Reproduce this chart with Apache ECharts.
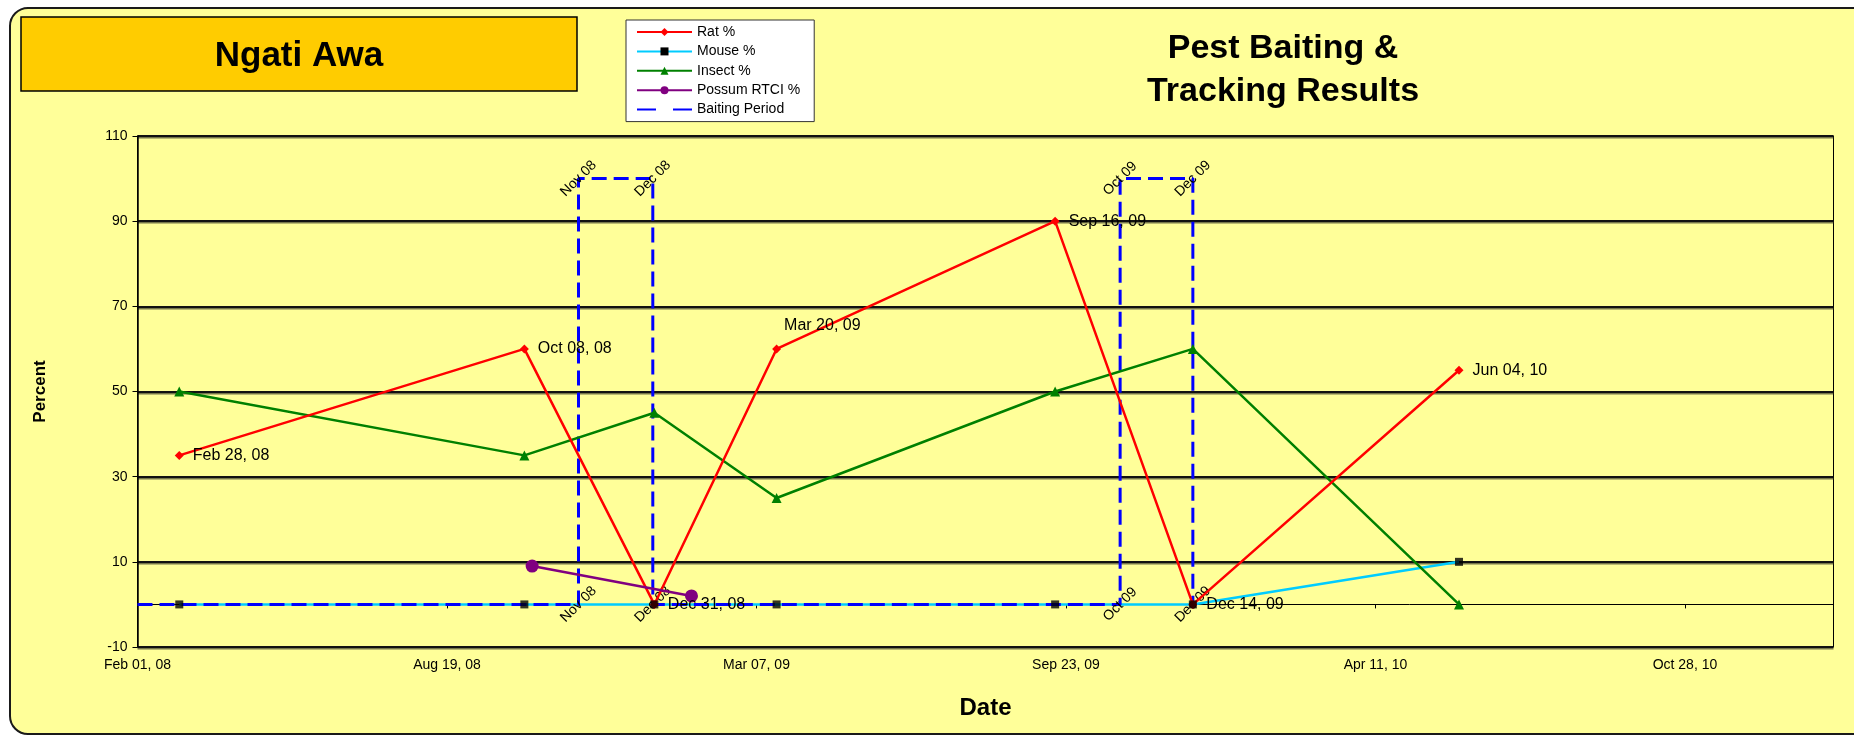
<!DOCTYPE html>
<html>
<head>
<meta charset="utf-8">
<title>Ngati Awa - Pest Baiting & Tracking Results</title>
<script src="https://cdn.jsdelivr.net/npm/echarts@6/dist/echarts.min.js"></script>
<style>
    html, body { margin: 0; padding: 0; background: #fff; }
    #chart { width: 1854px; height: 737px; }
</style>
</head>
<body>
<div id="chart"></div>
<script>
// survey dates shared by rat / mouse / insect tracking
const surveyDates = ['2008-02-28', '2008-10-08', '2008-12-31', '2009-03-20', '2009-09-16', '2009-12-14', '2010-06-04'];
const ratPct = [35, 60, 0, 60, 90, 0, 55];
const mousePct = [0, 0, 0, 0, 0, 0, 10];
const insectPct = [50, 35, 45, 25, 50, 60, 0];

const possumDates = ['2008-10-13', '2009-01-24'];
const possumPct = [9, 2];

// baiting period drawn as a step outline
const baitDates = ['2008-02-01', '2008-11-12', '2008-11-12', '2008-12-30', '2008-12-30', '2009-10-28', '2009-10-28', '2009-12-14', '2009-12-14'];
const baitLevel = [0, 0, 100, 100, 0, 0, 100, 100, 0];

const axisStart = '2008-02-01';
const axisEnd = '2011-02-01';
const tickDays = 200;

const monthNames = ['Jan', 'Feb', 'Mar', 'Apr', 'May', 'Jun', 'Jul', 'Aug', 'Sep', 'Oct', 'Nov', 'Dec'];
const baseTime = Date.parse(axisStart + 'T00:00:00Z');

function dayNum(s) {
    return Math.round((Date.parse(s + 'T00:00:00Z') - baseTime) / 86400000);
}
function pad2(n) {
    return (n < 10 ? '0' : '') + n;
}
function fmtDay(d) {
    var dt = new Date(baseTime + d * 86400000);
    return monthNames[dt.getUTCMonth()] + ' ' + pad2(dt.getUTCDate()) + ', ' + pad2(dt.getUTCFullYear() % 100);
}
function fmtMonth(d) {
    var dt = new Date(baseTime + d * 86400000);
    return monthNames[dt.getUTCMonth()] + ' ' + pad2(dt.getUTCFullYear() % 100);
}

const font = 'Liberation Sans';

var ratData = surveyDates.map(function (s, i) {
    var item = {value: [dayNum(s), ratPct[i]]};
    if (s === '2009-03-20') {
        item.label = {offset: [-6, -23]};
    }
    return item;
});
var mouseData = surveyDates.map((s, i) => [dayNum(s), mousePct[i]]);
var insectData = surveyDates.map((s, i) => [dayNum(s), insectPct[i]]);
var possumData = possumDates.map((s, i) => [dayNum(s), possumPct[i]]);
var baitData = baitDates.map(function (s, i) {
    return {value: [dayNum(s), baitLevel[i]], label: {show: i > 0}};
});

var chart = echarts.init(document.getElementById('chart'), null, {renderer: 'canvas'});

var option = {
    backgroundColor: '#ffffff',
    textStyle: {fontFamily: font},
    animation: false,
    graphic: [
        {
            type: 'rect', z: -100, silent: true,
            shape: {x: 10, y: 8, width: 1900, height: 726, r: 18},
            style: {fill: '#FFFF99', stroke: '#1a1a1a', lineWidth: 2}
        },
        {
            type: 'rect', z: 10, silent: true,
            shape: {x: 21, y: 17, width: 556, height: 74},
            style: {fill: '#FFCC00', stroke: '#000', lineWidth: 1.5}
        },
        {
            type: 'text', z: 11, silent: true, x: 299, y: 56,
            style: {text: 'Ngati Awa', font: 'bold 35px ' + font, fill: '#000', align: 'center', verticalAlign: 'middle'}
        },
        {
            type: 'text', z: 11, silent: true, x: 1283, y: 70,
            style: {text: 'Pest Baiting &\nTracking Results', font: 'bold 34px ' + font, lineHeight: 43, fill: '#000', align: 'center', verticalAlign: 'middle'}
        }
    ],
    legend: {
        orient: 'vertical',
        left: 626,
        top: 20,
        padding: [5, 14, 5, 10],
        itemWidth: 55,
        itemHeight: 10,
        itemGap: 5.4,
        backgroundColor: '#ffffff',
        borderColor: '#333',
        borderWidth: 1,
        textStyle: {fontSize: 14, color: '#000', fontFamily: font},
        data: [
            'Rat %', 'Mouse %', 'Insect %', 'Possum RTCI %',
            {name: 'Baiting Period', itemStyle: {opacity: 0}, lineStyle: {type: [19, 17]}}
        ]
    },
    grid: {
        left: 137.5,
        right: 20.5,
        top: 136,
        bottom: 90,
        show: true,
        backgroundColor: 'transparent',
        borderColor: '#000',
        borderWidth: 1
    },
    xAxis: [
        {
            type: 'value',
            min: dayNum(axisStart),
            max: dayNum(axisEnd),
            interval: tickDays,
            position: 'bottom',
            name: 'Date',
            nameLocation: 'middle',
            nameGap: 49,
            nameTextStyle: {fontSize: 24, fontWeight: 'bold', color: '#000'},
            axisLine: {show: false, onZero: false},
            axisTick: {show: false},
            splitLine: {show: false},
            axisLabel: {
                fontSize: 14, color: '#000', margin: 11,
                showMaxLabel: false,
                formatter: fmtDay
            }
        },
        {
            // Excel draws the category line where y crosses 0
            type: 'value',
            min: dayNum(axisStart),
            max: dayNum(axisEnd),
            interval: tickDays,
            position: 'bottom',
            axisLine: {show: true, onZero: true, lineStyle: {color: '#000', width: 1}},
            axisTick: {show: true, length: 4, lineStyle: {color: '#000'}},
            axisLabel: {show: false},
            splitLine: {show: false}
        }
    ],
    yAxis: {
        type: 'value',
        min: -10,
        max: 110,
        interval: 20,
        name: 'Percent',
        nameLocation: 'middle',
        nameRotate: 90,
        nameGap: 89,
        nameTextStyle: {fontSize: 17, fontWeight: 'bold', color: '#000'},
        axisLine: {show: true, lineStyle: {color: '#000', width: 1.5}},
        axisTick: {show: true, length: 5, lineStyle: {color: '#000'}},
        axisLabel: {fontSize: 14, color: '#000', margin: 10},
        splitLine: {
            show: true,
            lineStyle: {color: '#111', width: 2, shadowColor: 'rgba(60,60,40,0.7)', shadowOffsetY: 1.5}
        }
    },
    series: [
        {
            name: 'Mouse %',
            type: 'line',
            data: mouseData,
            symbol: 'rect',
            symbolSize: 8,
            showSymbol: false,
            z: 2,
            itemStyle: {color: '#000'},
            lineStyle: {color: '#00CCFF', width: 2.5}
        },
        {
            name: 'Baiting Period',
            type: 'line',
            data: baitData,
            symbol: 'circle',
            symbolSize: 0.1,
            z: 3,
            itemStyle: {color: '#0000FF'},
            lineStyle: {color: '#0000FF', width: 3, type: [15, 7]},
            label: {
                position: 'inside',
                rotate: 45,
                fontSize: 14,
                color: '#000',
                formatter: p => fmtMonth(p.value[0])
            }
        },
        {
            name: 'Mouse %',
            type: 'scatter',
            data: mouseData,
            symbol: 'rect',
            symbolSize: 8,
            z: 5,
            itemStyle: {color: '#000'}
        },
        {
            name: 'Insect %',
            type: 'line',
            data: insectData,
            symbol: 'triangle',
            symbolSize: 10,
            z: 4,
            itemStyle: {color: '#008000'},
            lineStyle: {color: '#008000', width: 2.5}
        },
        {
            name: 'Rat %',
            type: 'line',
            data: ratData,
            symbol: 'diamond',
            symbolSize: 9,
            z: 4,
            itemStyle: {color: '#FF0000'},
            lineStyle: {color: '#FF0000', width: 2.5},
            label: {
                show: true,
                position: 'right',
                distance: 9,
                fontSize: 16,
                color: '#000',
                formatter: p => fmtDay(p.value[0])
            }
        },
        {
            name: 'Possum RTCI %',
            type: 'line',
            data: possumData,
            symbol: 'circle',
            symbolSize: 13,
            z: 4,
            itemStyle: {color: '#800080'},
            lineStyle: {color: '#800080', width: 2.5}
        }
    ]
};

chart.setOption(option);
</script>
</body>
</html>
